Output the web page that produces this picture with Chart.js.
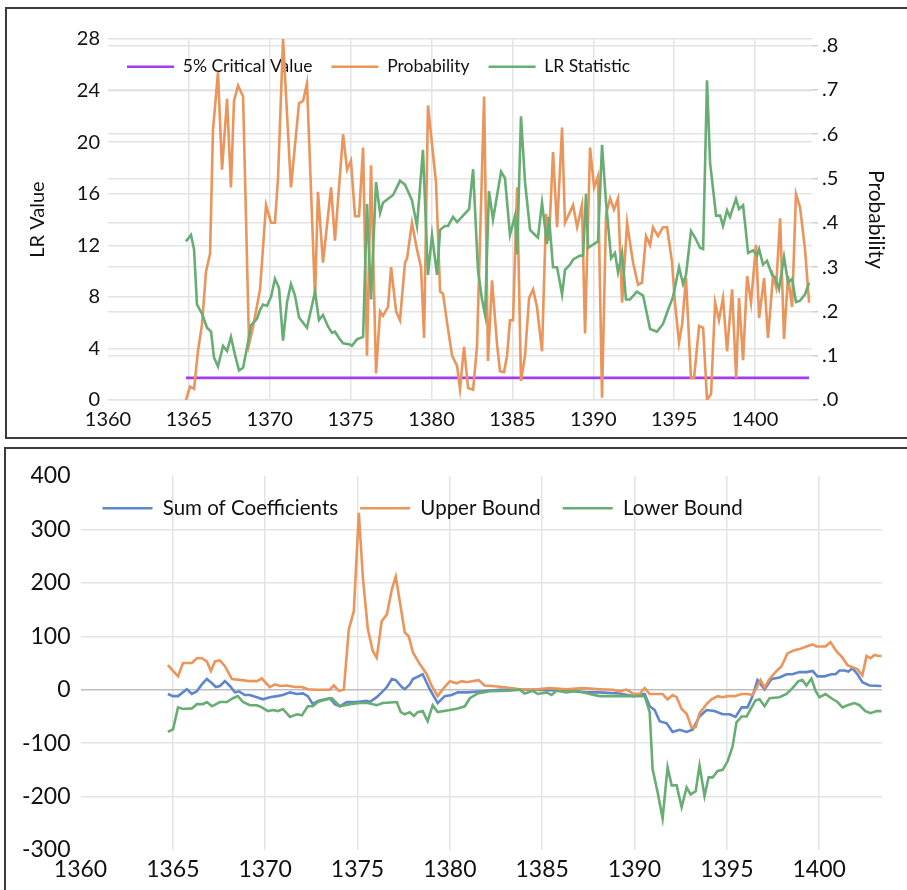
<!DOCTYPE html>
<html><head><meta charset="utf-8">
<script src="https://cdn.jsdelivr.net/npm/chart.js@4.4.0/dist/chart.umd.min.js"></script>
<style>
html,body{margin:0;padding:0;background:#fff;width:907px;height:890px;overflow:hidden;}
.box{position:absolute;border:2px solid #3c3c3c;box-sizing:border-box;}
canvas{position:absolute;}
</style></head><body>
<div class="box" style="left:5px;top:7px;width:960px;height:432px;"></div>
<div class="box" style="left:4px;top:447px;width:960px;height:500px;"></div>
<canvas id="c1" width="907" height="438" style="left:0;top:0"></canvas>
<canvas id="c2" width="907" height="442" style="left:0;top:448px"></canvas>
<script>
// ---------- Top panel data ----------
const xTickYears = [1360,1365,1370,1375,1380,1385,1390,1395,1400];
const criticalYears = [1364.82, 1403.34];
const criticalValues = [0.05, 0.05];
const lrYears = [1364.82,1365.13,1365.32,1365.50,1365.81,1366.12,1366.37,1366.55,1366.80,1367.11,
1367.36,1367.60,1367.85,1368.10,1368.35,1368.66,1368.84,1369.21,1369.40,1369.58,
1369.83,1370.08,1370.32,1370.57,1370.82,1371.07,1371.31,1371.56,1371.81,1372.30,
1372.80,1373.04,1373.29,1373.60,1373.85,1374.03,1374.34,1374.53,1374.96,1375.08,
1375.39,1375.77,1376.01,1376.26,1376.57,1376.82,1377.00,1377.62,1378.05,1378.36,
1378.79,1379.10,1379.47,1379.78,1380.03,1380.34,1380.53,1380.83,1381.02,1381.33,
1381.58,1381.95,1382.32,1382.57,1382.87,1383.12,1383.31,1383.55,1383.80,1384.30,
1384.54,1384.85,1385.16,1385.29,1385.53,1385.78,1386.09,1386.40,1386.58,1386.83,
1387.14,1387.26,1387.51,1387.76,1388.07,1388.25,1388.56,1388.75,1389.18,1389.37,
1389.55,1389.68,1389.92,1390.29,1390.54,1390.79,1391.10,1391.34,1391.53,1391.78,
1392.02,1392.27,1392.70,1393.08,1393.51,1393.94,1394.31,1394.62,1394.93,1395.30,
1395.55,1395.73,1396.04,1396.29,1396.60,1396.79,1397.03,1397.22,1397.59,1397.84,
1398.02,1398.27,1398.45,1398.82,1399.01,1399.26,1399.44,1399.57,1399.88,1400.12,
1400.25,1400.49,1400.74,1401.05,1401.24,1401.48,1401.79,1402.04,1402.29,1402.53,
1402.78,1403.09,1403.34];
const lrValues = [12.3,12.8,11.7,7.4,6.7,5.6,5.3,3.3,2.6,4.2,
3.8,4.9,3.5,2.3,2.5,4.5,5.8,6.3,7.0,7.4,
7.3,8.0,9.4,8.7,4.6,7.6,9.0,8.1,6.4,5.6,
8.4,6.2,6.6,5.7,5.2,5.3,4.7,4.4,4.3,4.2,
4.7,4.9,15.2,7.8,16.9,14.5,15.3,15.9,17.0,16.7,
15.5,13.5,19.4,9.7,12.8,9.7,13.2,13.5,13.5,14.2,
13.8,14.3,14.8,17.9,10.1,7.8,6.6,16.2,14.0,17.7,
17.2,12.8,14.3,11.3,22.0,16.9,13.2,12.8,12.6,15.3,
12.1,14.2,10.3,10.3,8.2,10.1,10.5,10.9,11.2,11.2,
16.0,11.8,12.0,12.3,19.8,15.3,11.0,11.4,9.9,11.4,
7.8,7.8,8.4,8.1,5.5,5.3,5.9,7.0,8.0,10.3,
9.0,9.7,13.1,12.6,11.8,11.7,24.8,18.4,14.3,14.3,
13.5,14.7,14.2,15.6,14.8,15.1,13.0,11.4,11.6,11.2,
11.7,10.5,10.8,9.7,9.5,8.6,11.1,9.1,9.4,7.6,
7.7,8.2,9.1];
const probYears = [1364.82,1365.07,1365.32,1365.56,1365.81,1366.06,1366.31,1366.49,1366.80,1367.05,
1367.36,1367.60,1367.79,1368.04,1368.35,1368.72,1368.96,1369.40,1369.77,1370.08,
1370.32,1370.51,1370.82,1371.31,1371.81,1372.06,1372.30,1372.80,1372.98,1373.29,
1373.79,1374.03,1374.53,1374.78,1375.02,1375.27,1375.52,1375.77,1376.01,1376.26,
1376.57,1376.82,1377.00,1377.31,1377.50,1377.81,1378.05,1378.36,1378.49,1378.79,
1379.10,1379.35,1379.54,1379.78,1380.28,1380.53,1380.71,1381.02,1381.27,1381.58,
1381.76,1382.01,1382.26,1382.57,1382.81,1383.25,1383.49,1383.74,1384.05,1384.23,
1384.48,1384.67,1384.85,1385.04,1385.29,1385.53,1385.78,1386.03,1386.28,1386.52,
1386.83,1387.08,1387.26,1387.51,1387.76,1388.07,1388.25,1388.75,1389.00,1389.30,
1389.49,1389.80,1390.05,1390.29,1390.54,1390.79,1391.04,1391.28,1391.53,1391.78,
1392.09,1392.27,1392.46,1392.77,1393.01,1393.26,1393.51,1393.69,1394.00,1394.31,
1394.56,1394.87,1395.05,1395.30,1395.49,1395.73,1396.04,1396.23,1396.54,1396.79,
1397.03,1397.28,1397.53,1397.77,1398.02,1398.27,1398.58,1398.83,1399.01,1399.26,
1399.51,1399.75,1400.06,1400.25,1400.56,1400.80,1401.11,1401.30,1401.55,1401.79,
1402.04,1402.29,1402.53,1402.78,1403.09,1403.34];
const probValues = [0.00,0.03,0.025,0.11,0.17,0.29,0.33,0.61,0.74,0.52,
0.68,0.48,0.675,0.71,0.685,0.126,0.163,0.25,0.44,0.40,
0.40,0.50,0.815,0.48,0.67,0.675,0.715,0.23,0.47,0.31,
0.48,0.36,0.60,0.52,0.54,0.415,0.415,0.57,0.10,0.53,
0.06,0.20,0.19,0.21,0.30,0.20,0.18,0.31,0.32,0.40,
0.34,0.30,0.14,0.665,0.49,0.245,0.24,0.16,0.10,0.077,
0.025,0.12,0.027,0.023,0.12,0.685,0.088,0.27,0.126,0.065,
0.063,0.10,0.18,0.18,0.48,0.043,0.10,0.23,0.25,0.21,
0.11,0.42,0.36,0.56,0.39,0.615,0.40,0.44,0.39,0.44,
0.15,0.57,0.48,0.505,0.005,0.42,0.455,0.43,0.455,0.22,
0.40,0.355,0.31,0.26,0.265,0.37,0.35,0.39,0.37,0.39,
0.39,0.31,0.22,0.13,0.17,0.275,0.05,0.05,0.167,0.163,
0.00,0.014,0.22,0.18,0.23,0.11,0.25,0.05,0.23,0.09,
0.28,0.22,0.35,0.185,0.275,0.14,0.28,0.255,0.41,0.138,
0.28,0.21,0.465,0.435,0.34,0.22];

// ---------- Bottom panel data ----------
const sumYears = [1364.73,1365.01,1365.28,1365.76,1366.03,1366.30,1366.57,1366.84,1367.12,1367.33,
1367.55,1367.82,1368.09,1368.36,1368.58,1368.90,1369.17,1369.55,1369.88,1370.25,
1370.64,1370.96,1371.34,1371.72,1372.04,1372.31,1372.58,1372.85,1373.12,1373.50,
1373.77,1374.04,1374.42,1374.96,1375.50,1375.66,1376.04,1376.31,1376.59,1376.86,
1377.07,1377.40,1377.56,1377.83,1378.00,1378.53,1378.91,1379.34,1379.72,1380.10,
1380.43,1380.92,1381.78,1382.70,1384.49,1386.32,1387.41,1388.11,1389.19,1389.90,
1390.55,1390.82,1391.09,1391.36,1391.74,1392.06,1392.44,1392.82,1393.14,1393.52,
1393.90,1394.33,1394.77,1395.15,1395.47,1395.80,1396.12,1396.39,1396.66,1397.04,
1397.42,1397.85,1398.23,1398.55,1398.93,1399.31,1399.64,1399.91,1400.29,1400.66,
1400.88,1401.10,1401.37,1401.58,1401.80,1402.07,1402.34,1402.72,1403.37];
const sumValues = [-8,-12,-12,1,-8,-3,10,20,12,5,
7,16,7,-5,-3,-10,-10,-14,-18,-14,
-12,-10,-5,-8,-7,-12,-27,-21,-19,-16,
-27,-31,-23,-23,-21,-23,-14,-5,5,20,
18,5,1,10,20,29,1,-25,-12,-10,
-5,-5,-3,0,0,-2,-5,-5,-7,-12,
-8,-31,-38,-59,-63,-79,-75,-79,-75,-50,
-38,-40,-46,-46,-51,-33,-33,-12,18,1,
20,23,29,29,33,33,35,25,25,29,
29,36,36,34,40,29,14,8,7];
const upperYears = [1364.73,1365.28,1365.55,1366.03,1366.30,1366.57,1366.84,1367.06,1367.28,1367.55,
1367.82,1368.20,1368.74,1369.17,1369.55,1369.82,1370.25,1370.53,1370.80,1371.17,
1371.61,1371.99,1372.31,1372.80,1373.50,1373.72,1373.99,1374.26,1374.53,1374.80,
1375.07,1375.29,1375.56,1375.83,1376.04,1376.31,1376.59,1376.86,1377.07,1377.29,
1377.56,1377.77,1378.00,1378.37,1378.75,1379.02,1379.34,1379.62,1380.00,1380.38,
1380.64,1380.92,1381.19,1381.56,1381.88,1382.32,1383.07,1383.78,1384.48,1385.40,
1386.32,1387.19,1388.11,1388.81,1389.19,1389.57,1389.90,1390.27,1390.55,1390.82,
1391.52,1391.79,1392.06,1392.28,1392.55,1392.82,1393.09,1393.31,1393.52,1393.90,
1394.17,1394.50,1394.77,1395.04,1395.42,1395.80,1396.12,1396.39,1396.61,1396.82,
1397.04,1397.31,1397.69,1397.96,1398.28,1398.66,1398.93,1399.31,1399.64,1399.85,
1400.12,1400.34,1400.61,1400.93,1401.26,1401.53,1401.80,1402.07,1402.34,1402.56,
1402.78,1402.99,1403.21,1403.37];
const upperValues = [46,25,50,50,59,59,53,35,53,55,
44,20,18,16,16,21,5,10,7,8,
5,5,1,0,0,8,-2,0,113,147,
331,210,113,72,60,128,141,188,212,165,
107,100,70,48,29,7,-12,1,16,12,
16,14,16,18,8,7,4,1,0,3,
1,3,1,0,-3,0,-7,-8,3,-8,
-8,-18,-10,-14,-36,-45,-71,-70,-44,-27,
-18,-12,-14,-12,-12,-8,-8,-10,4,18,
4,20,35,44,68,74,76,81,85,81,
81,81,89,72,60,46,42,38,27,63,
59,65,63,63];
const lowerYears = [1364.73,1365.01,1365.28,1365.55,1366.03,1366.30,1366.63,1366.84,1367.12,1367.55,
1367.93,1368.25,1368.52,1368.80,1369.17,1369.55,1369.82,1370.15,1370.42,1370.69,
1370.96,1371.34,1371.72,1371.99,1372.31,1372.58,1372.85,1373.23,1373.61,1374.04,
1374.58,1375.12,1375.56,1376.04,1376.37,1377.13,1377.34,1377.56,1377.83,1378.05,
1378.26,1378.53,1378.80,1379.07,1379.34,1380.00,1380.43,1380.81,1381.08,1381.51,
1382.16,1383.24,1383.78,1384.05,1384.49,1384.76,1385.24,1385.51,1385.78,1386.32,
1386.86,1387.57,1388.11,1389.03,1389.90,1390.55,1390.82,1390.98,1391.25,1391.52,
1391.79,1392.01,1392.28,1392.55,1392.82,1393.04,1393.31,1393.52,1393.79,1394.01,
1394.23,1394.50,1394.77,1395.04,1395.31,1395.52,1395.80,1396.07,1396.34,1396.55,
1396.77,1397.04,1397.31,1397.85,1398.23,1398.55,1398.88,1399.09,1399.31,1399.58,
1399.80,1400.01,1400.34,1400.66,1400.99,1401.26,1401.53,1401.91,1402.18,1402.50,
1402.78,1403.10,1403.37];
const lowerValues = [-79,-74,-33,-36,-35,-27,-27,-23,-31,-23,
-23,-16,-12,-23,-29,-29,-33,-40,-38,-40,
-36,-51,-46,-48,-31,-31,-23,-19,-16,-31,
-27,-25,-25,-29,-25,-23,-42,-46,-42,-49,
-42,-40,-59,-29,-42,-38,-35,-31,-16,-7,
-3,-2,0,-7,-2,-8,-5,-10,-2,-5,
-2,-8,-12,-12,-12,-12,-42,-149,-192,-241,
-145,-179,-179,-220,-183,-196,-190,-142,-199,-164,
-164,-152,-150,-134,-106,-61,-50,-50,-33,-20,
-18,-31,-16,-14,-8,3,16,18,8,21,
-2,-14,-8,-16,-23,-33,-29,-25,-29,-40,
-44,-40,-40];

const FONT = 'Lato';
const GRID = '#e4e4e4';
const pts = (xs, ys) => xs.map((x, i) => ({x: x, y: ys[i]}));
const lineDs = (label, xs, ys, color, axis, order) => ({
  label: label, data: pts(xs, ys), yAxisID: axis, borderColor: color, backgroundColor: color,
  borderWidth: 2.6, pointRadius: 0, tension: 0, fill: false, order: order
});
// lay the in-plot legend out in one row, starting at the plot's left edge
const rowLegend = {
  id: 'rowLegend',
  afterInit(chart) { if (chart.legend) chart.legend.isHorizontal = () => true; },
  afterLayout(chart) {
    const lg = chart.legend, ca = chart.chartArea;
    if (lg && ca) { lg.left = ca.left; lg.right = ca.right; lg.width = ca.right - ca.left; }
  }
};

// ---------- Top chart ----------
new Chart(document.getElementById('c1'), {
  type: 'line',
  plugins: [rowLegend],
  data: { datasets: [
    lineDs('5% Critical Value', criticalYears, criticalValues, '#A03CF2', 'yR', 3),
    lineDs('Probability', probYears, probValues, '#E9955C', 'yR', 2),
    lineDs('LR Statistic', lrYears, lrValues, '#67AD74', 'yL', 1)
  ]},
  options: {
    responsive: false, animation: false, devicePixelRatio: 1,
    layout: { padding: { top: 39, left: 0, right: 0, bottom: 0 } },
    plugins: {
      legend: { position: 'chartArea', align: 'start', fullSize: false,
        labels: { usePointStyle: true, pointStyle: 'line', pointStyleWidth: 47, padding: 19,
          color: '#111', font: { family: FONT, size: 17.5 },
          sort: (a, b) => a.datasetIndex - b.datasetIndex } },
      tooltip: { enabled: false }
    },
    scales: {
      x: { type: 'linear', min: 1360, max: 1403.52,
        afterBuildTicks: s => { s.ticks = xTickYears.map(v => ({value: v})); },
        ticks: { includeBounds: false, callback: v => String(v), color: '#111', padding: 8, font: { family: FONT, size: 20 } },
        grid: { color: c => (c.tick && c.tick.value === 1360) ? 'rgba(0,0,0,0)' : GRID, lineWidth: 1.5, drawTicks: false },
        border: { display: false },
        afterFit: s => { s.height = 38; } },
      yL: { position: 'left', min: 0, max: 28,
        ticks: { stepSize: 4, includeBounds: false, color: '#111', padding: 8, font: { family: FONT, size: 20 } },
        grid: { color: GRID, lineWidth: 1.5, drawTicks: false },
        border: { display: false },
        title: { display: true, text: 'LR Value', color: '#111', font: { family: FONT, size: 20 }, padding: { top: 26, bottom: 0 } },
        afterFit: s => { s.width = 108; } },
      yR: { position: 'right', min: 0, max: 0.815,
        ticks: { stepSize: 0.1, includeBounds: false, color: '#111', padding: 4, font: { family: FONT, size: 20 },
          callback: v => v.toFixed(1).replace(/^0/, '') },
        grid: { color: GRID, lineWidth: 1.5, drawTicks: true, tickLength: 6, tickColor: '#cfcfcf' },
        border: { display: false },
        title: { display: true, text: 'Probability', color: '#111', font: { family: FONT, size: 21 }, padding: { top: 19, bottom: 0 } },
        afterFit: s => { s.width = 95; } }
    }
  }
});

// ---------- Bottom chart ----------
new Chart(document.getElementById('c2'), {
  type: 'line',
  plugins: [rowLegend],
  data: { datasets: [
    lineDs('Sum of Coefficients', sumYears, sumValues, '#5F86CB', 'y', 3),
    lineDs('Upper Bound', upperYears, upperValues, '#E9955C', 'y', 2),
    lineDs('Lower Bound', lowerYears, lowerValues, '#67AD74', 'y', 1)
  ]},
  options: {
    responsive: false, animation: false, devicePixelRatio: 1,
    layout: { padding: { top: 28, left: 0, right: 25, bottom: 0 } },
    plugins: {
      legend: { position: 'chartArea', align: 'start', fullSize: false,
        labels: { usePointStyle: true, pointStyle: 'line', pointStyleWidth: 50, padding: 22,
          color: '#111', font: { family: FONT, size: 20.5 },
          sort: (a, b) => a.datasetIndex - b.datasetIndex } },
      tooltip: { enabled: false }
    },
    scales: {
      x: { type: 'linear', min: 1360, max: 1403.4,
        afterBuildTicks: s => { s.ticks = xTickYears.map(v => ({value: v})); },
        ticks: { includeBounds: false, callback: v => String(v), color: '#111', padding: 6, font: { family: FONT, size: 23 } },
        grid: { color: c => (c.tick && c.tick.value === 1360) ? 'rgba(0,0,0,0)' : GRID, lineWidth: 1.5, drawTicks: false },
        border: { display: false },
        afterFit: s => { s.height = 40; } },
      y: { min: -300, max: 400,
        ticks: { stepSize: 100, color: '#111', padding: 10, font: { family: FONT, size: 23 } },
        grid: { color: c => { const v = c.tick ? c.tick.value : null; if (v === 0) return '#bdbdbd'; if (v === 400 || v === -300) return 'rgba(0,0,0,0)'; return GRID; }, lineWidth: 1.5, drawTicks: false },
        border: { display: false },
        afterFit: s => { s.width = 80.5; } }
    }
  }
});
</script>
</body></html>
